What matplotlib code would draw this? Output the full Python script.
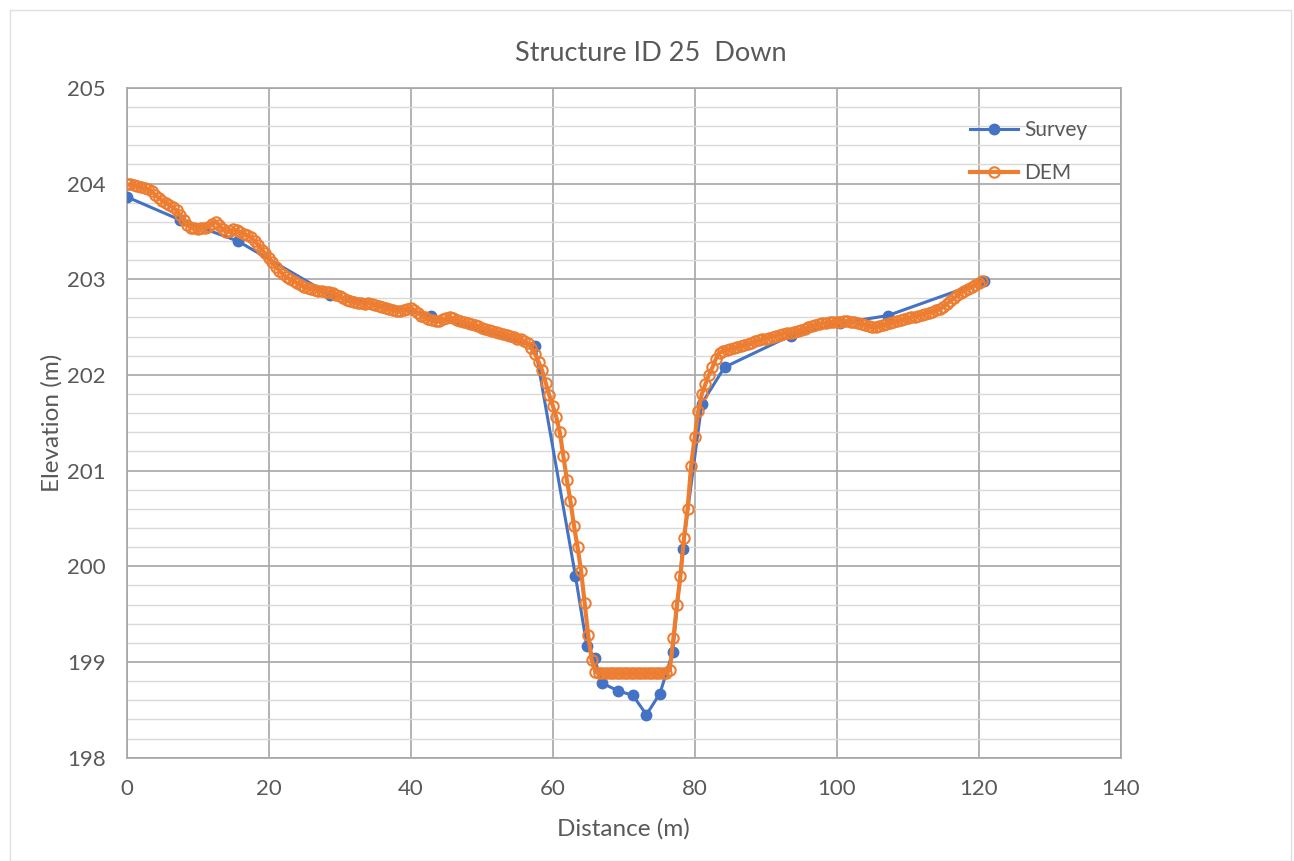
import numpy as np
import matplotlib
matplotlib.use("Agg")
import matplotlib.pyplot as plt
from matplotlib.ticker import MultipleLocator
from matplotlib.patches import Rectangle

plt.rcParams['font.family'] = ['Lato', 'DejaVu Sans']

# survey points (distance m, elevation m)
survey_x = [0, 7.5, 15.6, 28.6, 42.8, 57.5, 63.2, 64.8, 65.9, 66.9, 69.2, 71.3,
            73.2, 75.1, 76.9, 78.3, 81.0, 84.2, 93.5, 100.5, 107.2, 120.8]
survey_y = [203.86, 203.62, 203.40, 202.84, 202.62, 202.30, 199.90, 199.17,
            199.04, 198.78, 198.70, 198.65, 198.45, 198.67, 199.10, 200.18,
            201.70, 202.08, 202.41, 202.54, 202.62, 202.98]

# DEM samples every 0.5 m from 0 to 120.5 m
dem_step = 0.5
dem_y = [
    203.99, 203.99, 203.98, 203.97, 203.96, 203.95, 203.94, 203.92, 203.88, 203.85,
    203.82, 203.80, 203.78, 203.75, 203.72, 203.67, 203.62, 203.57, 203.54, 203.53,
    203.52, 203.53, 203.54, 203.55, 203.58, 203.60, 203.57, 203.52, 203.49, 203.50,
    203.52, 203.51, 203.49, 203.47, 203.46, 203.44, 203.40, 203.36, 203.31, 203.27,
    203.22, 203.18, 203.13, 203.09, 203.05, 203.02, 203.00, 202.98, 202.96, 202.94,
    202.92, 202.91, 202.90, 202.89, 202.88, 202.88, 202.87, 202.87, 202.86, 202.84,
    202.82, 202.80, 202.78, 202.77, 202.76, 202.75, 202.75, 202.74, 202.75, 202.74,
    202.73, 202.72, 202.71, 202.70, 202.69, 202.68, 202.67, 202.67, 202.68, 202.69,
    202.70, 202.68, 202.65, 202.62, 202.60, 202.58, 202.57, 202.56, 202.56, 202.58,
    202.59, 202.60, 202.59, 202.57, 202.56, 202.55, 202.54, 202.53, 202.52, 202.51,
    202.49, 202.48, 202.47, 202.46, 202.45, 202.44, 202.43, 202.42, 202.41, 202.40,
    202.38, 202.37, 202.35, 202.33, 202.28, 202.22, 202.14, 202.05, 201.92, 201.79,
    201.68, 201.56, 201.40, 201.15, 200.90, 200.68, 200.42, 200.20, 199.95, 199.62,
    199.28, 199.02, 198.90, 198.88, 198.88, 198.88, 198.88, 198.88, 198.88, 198.88,
    198.88, 198.88, 198.88, 198.88, 198.88, 198.88, 198.88, 198.88, 198.88, 198.88,
    198.88, 198.88, 198.89, 198.92, 199.25, 199.60, 199.90, 200.30, 200.60, 201.05,
    201.35, 201.62, 201.80, 201.90, 202.00, 202.08, 202.17, 202.23, 202.25, 202.26,
    202.27, 202.28, 202.29, 202.30, 202.31, 202.32, 202.33, 202.35, 202.36, 202.37,
    202.38, 202.39, 202.40, 202.41, 202.42, 202.43, 202.44, 202.44, 202.45, 202.46,
    202.47, 202.48, 202.50, 202.51, 202.52, 202.53, 202.54, 202.54, 202.55, 202.55,
    202.55, 202.55, 202.56, 202.56, 202.55, 202.55, 202.54, 202.53, 202.52, 202.51,
    202.50, 202.50, 202.51, 202.52, 202.53, 202.54, 202.55, 202.56, 202.57, 202.58,
    202.59, 202.60, 202.61, 202.62, 202.63, 202.64, 202.65, 202.66, 202.68, 202.69,
    202.71, 202.74, 202.77, 202.80, 202.83, 202.86, 202.88, 202.90, 202.92, 202.94,
    202.96, 202.98,
]
dem_x = np.arange(len(dem_y)) * dem_step

text_col = '#595959'
fig = plt.figure(figsize=[12.94, 8.61], dpi=100)
ax = fig.add_axes([0.098, 0.120, 0.768, 0.778])
fig.patches.append(Rectangle((0.008, 0.0), 0.99, 0.988, transform=fig.transFigure,
                             fill=False, edgecolor='#e0e0e0', linewidth=1))

ax.plot(survey_x, survey_y, '-o', color='#4472C4', linewidth=2.2, markersize=7.5,
        label='Survey', zorder=3)
ax.plot(dem_x, dem_y, '-o', color='#ED7D31', linewidth=3, markersize=7.5,
        markerfacecolor='none', markeredgewidth=1.5, label='DEM', zorder=4)

ax.set_xlim(0, 140)
ax.set_ylim(198, 205)
ax.xaxis.set_major_locator(MultipleLocator(20))
ax.yaxis.set_major_locator(MultipleLocator(1))
ax.yaxis.set_minor_locator(MultipleLocator(0.2))
ax.grid(which='major', color='#a6a6a6', linewidth=1.2)
ax.grid(which='minor', axis='y', color='#d9d9d9', linewidth=1.0)
ax.set_axisbelow(True)
for s in ax.spines.values():
    s.set_color('#a6a6a6')
    s.set_linewidth(1.2)
ax.tick_params(which='both', length=0, labelsize=16, labelcolor=text_col)
ax.tick_params(axis='x', pad=15)
ax.tick_params(axis='y', pad=15)

ax.set_xlabel('Distance (m)', fontsize=17.5, color=text_col, labelpad=14)
ax.set_ylabel('Elevation (m)', fontsize=17.5, color=text_col, labelpad=3)
ax.set_title('Structure ID 25  Down', fontsize=19.5, color=text_col, pad=19, x=0.527)

ax.legend(loc='upper right', bbox_to_anchor=(0.985, 0.98), frameon=False,
          fontsize=15, labelcolor=text_col, handlelength=2.3, labelspacing=1.1,
          handletextpad=0.3)

plt.savefig('out.png', dpi=100)
